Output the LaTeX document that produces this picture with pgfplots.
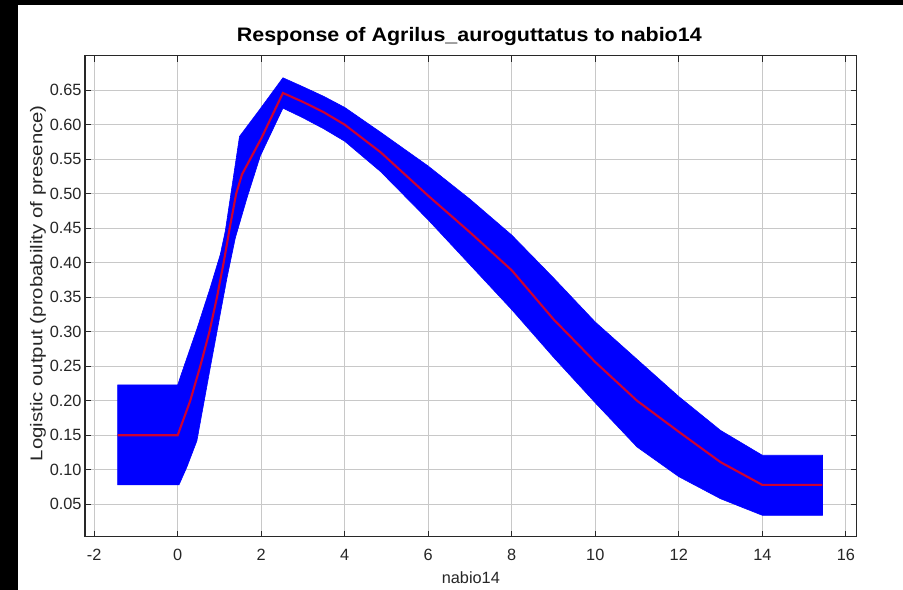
\documentclass[border=0pt]{standalone}
\usepackage{pgfplots}
\pgfplotsset{compat=1.18}
\usepackage{fontspec}
\setmainfont{Liberation Sans}
\definecolor{gridc}{RGB}{200,200,200}
\definecolor{framec}{RGB}{40,40,40}
\definecolor{meanc}{RGB}{205,0,50}
\begin{document}
\begin{tikzpicture}
\useasboundingbox (0,0) rectangle (903bp,590bp);
\fill[black] (0,0) rectangle (903bp,590bp);
\fill[white] (18bp,0) rectangle (903bp,585bp);
\begin{axis}[
  at={(85bp,53.3bp)}, anchor=south west,
  scale only axis, width=771.7bp, height=481bp,
  xmin=-2.22, xmax=16.26, ymin=0.003, ymax=0.70,
  xtick={-2,0,2,4,6,8,10,12,14,16},
  ytick={0.05,0.10,0.15,0.20,0.25,0.30,0.35,0.40,0.45,0.50,0.55,0.60,0.65},
  grid=major,
  major grid style={gridc, line width=1.1bp},
  axis line style={framec, line width=1.2bp},
  tick style={framec, line width=1bp},
  tick align=inside,
  major tick length=6bp,
  xtick pos=both, ytick pos=both,
  /pgf/number format/assume math mode=true,
  yticklabel style={/pgf/number format/fixed, /pgf/number format/fixed zerofill, /pgf/number format/precision=2},
  tick label style={font=\fontsize{16.3bp}{19bp}\selectfont, color=black!85},
  xticklabel style={yshift=-9bp},
  title={\scalebox{1.1}[1]{\bfseries\fontsize{19.5bp}{23bp}\selectfont Response of Agrilus\_auroguttatus to nabio14}},
  title style={at={(axis description cs:0.498,1.0175)}, anchor=base, inner sep=0pt},
  xlabel={\fontsize{16.3bp}{19bp}\selectfont nabio14},
  xlabel style={at={(axis description cs:0.5,-0.0983)}, anchor=base, inner sep=0pt, color=black!85},
  ylabel={\scalebox{1.2}[1]{\fontsize{17bp}{20bp}\selectfont Logistic output (probability of presence)}},
  ylabel style={at={(axis description cs:-0.0551,0.527)}, anchor=base, rotate=0, inner sep=0pt, color=black!85},
]
\addplot[fill=blue, draw=blue, line width=0.6bp] coordinates {
 (-1.44,0.223) (0,0.223) (0.14,0.248) (0.46,0.304) (0.78,0.364) (1.02,0.412) (1.14,0.446)
 (1.48,0.583) (2.0,0.625) (2.52,0.668) (3.0,0.655) (3.5,0.641) (4,0.625) (4.86,0.589)
 (6,0.540) (7,0.492) (8,0.440) (9,0.378) (10,0.314) (11,0.260) (12,0.206) (13,0.157)
 (14,0.121) (15.44,0.121)
 (15.44,0.034) (14,0.034) (13,0.058) (12,0.090) (11,0.133) (10,0.197) (9,0.263) (8,0.332)
 (7,0.397) (6,0.462) (4.86,0.532) (4,0.576) (3.5,0.594) (3,0.61) (2.52,0.624) (1.98,0.555)
 (1.66,0.494) (1.38,0.436) (1.18,0.378) (0.94,0.30) (0.78,0.248) (0.62,0.195) (0.46,0.142)
 (0.22,0.104) (0.03,0.078) (-1.44,0.078)
} -- cycle;
\addplot[meanc, line width=2.1bp] coordinates {
 (-1.44,0.150) (0,0.150) (0.30,0.20) (0.54,0.25) (0.76,0.30) (0.94,0.35) (1.10,0.40)
 (1.245,0.45) (1.40,0.50) (1.54,0.528) (2.0,0.580) (2.52,0.646) (3.0,0.633) (3.5,0.618)
 (4,0.600) (4.86,0.560) (6,0.497) (7,0.444) (8,0.389) (9,0.318) (10,0.256) (11,0.200)
 (12,0.155) (13,0.111) (14,0.078) (15.44,0.078)
};
\end{axis}
\end{tikzpicture}
\end{document}
